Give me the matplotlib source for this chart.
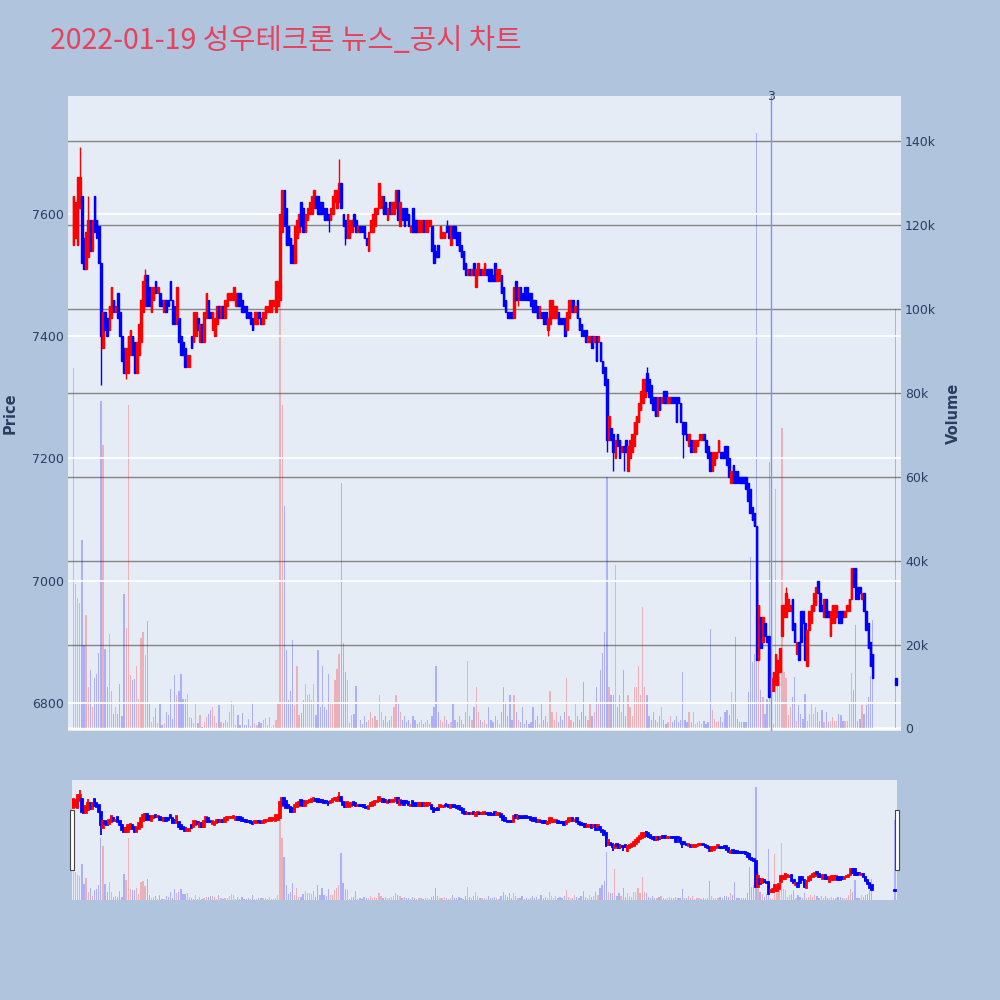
import numpy as np
import matplotlib
matplotlib.use('Agg')
import matplotlib.pyplot as plt
from matplotlib.patches import Rectangle
from matplotlib.ticker import FuncFormatter

plt.rcParams['font.family'] = ['DejaVu Sans']

TITLE = '2022-01-19 성우테크론 뉴스_공시 차트'

# minutes after 09:00 (continuous session to 15:19, closing auction at 15:30)
minutes = list(range(380)) + [390]

opens = [
    7550, 7560, 7550, 7610, 7630, 7560, 7510, 7530, 7590, 7540,
    7630, 7590, 7580, 7520, 7380, 7440, 7430, 7410, 7430, 7460,
    7440, 7470, 7440, 7400, 7380, 7340, 7340, 7370, 7400, 7390,
    7340, 7370, 7390, 7440, 7450, 7500, 7480, 7440, 7460, 7490,
    7470, 7470, 7460, 7440, 7460, 7460, 7490, 7460, 7450, 7420,
    7430, 7400, 7390, 7380, 7350, 7350, 7400, 7390, 7400, 7430,
    7390, 7420, 7390, 7430, 7460, 7440, 7410, 7400, 7420, 7450,
    7430, 7450, 7430, 7450, 7460, 7460, 7460, 7450, 7470, 7470,
    7460, 7450, 7450, 7440, 7440, 7430, 7420, 7420, 7440, 7430,
    7420, 7430, 7440, 7440, 7440, 7450, 7440, 7450, 7460, 7570,
    7640, 7610, 7580, 7560, 7550, 7520, 7560, 7570, 7620, 7610,
    7570, 7590, 7600, 7600, 7610, 7630, 7630, 7620, 7620, 7610,
    7610, 7600, 7590, 7600, 7620, 7610, 7620, 7650, 7600, 7590,
    7560, 7560, 7570, 7600, 7590, 7570, 7580, 7580, 7580, 7560,
    7540, 7570, 7570, 7580, 7600, 7610, 7610, 7630, 7620, 7590,
    7620, 7600, 7600, 7610, 7640, 7580, 7610, 7610, 7610, 7600,
    7570, 7610, 7590, 7590, 7570, 7570, 7590, 7570, 7570, 7580,
    7580, 7550, 7540, 7550, 7560, 7560, 7560, 7580, 7580, 7550,
    7580, 7580, 7570, 7570, 7550, 7540, 7520, 7500, 7510, 7500,
    7520, 7480, 7500, 7510, 7500, 7500, 7510, 7510, 7510, 7500,
    7520, 7490, 7490, 7500, 7480, 7460, 7440, 7440, 7440, 7430,
    7490, 7460, 7480, 7470, 7480, 7480, 7470, 7470, 7460, 7460,
    7450, 7430, 7440, 7440, 7440, 7410, 7420, 7430, 7430, 7430,
    7440, 7430, 7430, 7430, 7410, 7430, 7440, 7460, 7440, 7460,
    7430, 7420, 7410, 7410, 7390, 7390, 7400, 7390, 7400, 7390,
    7390, 7360, 7350, 7330, 7230, 7250, 7240, 7200, 7240, 7230,
    7210, 7220, 7230, 7180, 7200, 7210, 7220, 7240, 7260, 7280,
    7290, 7300, 7340, 7330, 7320, 7300, 7300, 7270, 7300, 7290,
    7310, 7310, 7290, 7290, 7300, 7300, 7300, 7300, 7290, 7260,
    7260, 7240, 7220, 7230, 7210, 7210, 7220, 7230, 7230, 7240,
    7230, 7220, 7210, 7180, 7190, 7200, 7210, 7210, 7210, 7220,
    7220, 7200, 7160, 7190, 7180, 7180, 7170, 7170, 7170, 7170,
    7160, 7150, 7120, 7110, 7090, 6870, 6940, 6900, 6930, 6910,
    6910, 6820, 6820, 6830, 6830, 6850, 6910, 6940, 6940, 6950,
    6950, 6970, 6930, 6880, 6900, 6950, 6950, 6930, 6860, 6920,
    6930, 6950, 6960, 7000, 6980, 6960, 6940, 6970, 6950, 6910,
    6930, 6930, 6940, 6950, 6950, 6950, 6940, 6950, 6950, 6970,
    7020, 7020, 6990, 6990, 6970, 6980, 6950, 6930, 6900, 6880,
    6840,
]

closes = [
    7630, 7620, 7660, 7660, 7520, 7510, 7570, 7590, 7540, 7590,
    7570, 7560, 7520, 7400, 7440, 7410, 7400, 7450, 7480, 7440,
    7450, 7430, 7400, 7360, 7340, 7380, 7400, 7410, 7370, 7340,
    7390, 7420, 7460, 7490, 7500, 7450, 7450, 7480, 7480, 7470,
    7480, 7450, 7450, 7460, 7440, 7450, 7460, 7420, 7420, 7480,
    7390, 7370, 7370, 7350, 7370, 7370, 7380, 7440, 7440, 7410,
    7420, 7390, 7440, 7470, 7430, 7430, 7440, 7430, 7450, 7430,
    7450, 7430, 7460, 7470, 7470, 7470, 7480, 7470, 7450, 7450,
    7440, 7440, 7430, 7430, 7420, 7410, 7440, 7440, 7430, 7420,
    7440, 7450, 7450, 7460, 7460, 7460, 7490, 7490, 7600, 7640,
    7580, 7550, 7550, 7520, 7520, 7580, 7590, 7600, 7580, 7570,
    7600, 7610, 7620, 7630, 7640, 7610, 7600, 7600, 7600, 7590,
    7590, 7590, 7610, 7630, 7640, 7640, 7650, 7610, 7580, 7560,
    7600, 7590, 7590, 7580, 7570, 7580, 7570, 7570, 7560, 7550,
    7570, 7590, 7600, 7610, 7610, 7650, 7630, 7600, 7600, 7610,
    7600, 7620, 7620, 7640, 7590, 7620, 7590, 7580, 7590, 7580,
    7580, 7570, 7570, 7570, 7590, 7590, 7570, 7590, 7590, 7590,
    7540, 7520, 7530, 7530, 7580, 7570, 7570, 7570, 7560, 7580,
    7560, 7560, 7550, 7540, 7530, 7510, 7500, 7510, 7500, 7510,
    7500, 7510, 7520, 7500, 7510, 7520, 7500, 7490, 7490, 7490,
    7490, 7510, 7510, 7470, 7450, 7440, 7430, 7430, 7430, 7480,
    7460, 7480, 7460, 7460, 7460, 7460, 7460, 7450, 7440, 7440,
    7430, 7450, 7430, 7420, 7420, 7430, 7460, 7460, 7450, 7450,
    7420, 7420, 7420, 7400, 7440, 7460, 7460, 7440, 7450, 7430,
    7410, 7400, 7400, 7390, 7400, 7400, 7380, 7400, 7360, 7400,
    7360, 7340, 7320, 7230, 7270, 7230, 7210, 7230, 7220, 7200,
    7220, 7210, 7210, 7220, 7230, 7240, 7260, 7270, 7290, 7310,
    7330, 7330, 7310, 7300, 7290, 7280, 7270, 7300, 7280, 7300,
    7290, 7290, 7300, 7300, 7290, 7290, 7260, 7290, 7260, 7240,
    7240, 7230, 7240, 7210, 7230, 7230, 7230, 7240, 7240, 7230,
    7210, 7200, 7180, 7210, 7210, 7210, 7230, 7200, 7200, 7200,
    7190, 7170, 7180, 7160, 7160, 7160, 7160, 7160, 7160, 7150,
    7130, 7110, 7100, 7090, 6870, 6960, 6890, 6940, 6910, 6900,
    6810, 6840, 6850, 6880, 6870, 6890, 6960, 6960, 6980, 6970,
    6960, 6920, 6900, 6900, 6870, 6900, 6930, 6870, 6920, 6950,
    6960, 6980, 6990, 6980, 6950, 6950, 6970, 6940, 6940, 6950,
    6960, 6960, 6960, 6930, 6930, 6940, 6950, 6960, 6970, 7020,
    6990, 6970, 6970, 6980, 6980, 6950, 6920, 6890, 6860, 6840,
    6830,
]

# wick extremes beyond the candle bodies (minute: price)
wick_high = {3: 7710, 7: 7630, 34: 7510, 126: 7690, 145: 7650, 153: 7640,
             177: 7590, 190: 7520, 272: 7350, 306: 7230, 338: 6990}
wick_low = {13: 7320, 25: 7330, 121: 7570, 129: 7550, 140: 7540, 191: 7480,
            211: 7450, 225: 7400, 246: 7380, 253: 7210, 256: 7180, 261: 7180,
            286: 7260, 289: 7200}

# volume in thousands of shares
volume_k = [
    86, 34.5, 31, 30, 45, 20, 27, 10, 14, 5,
    12, 13, 18, 78, 67.5, 19, 10, 22.5, 9, 3.5,
    5, 3.5, 10.5, 3, 32, 24, 77, 12.7, 11.5, 11.7,
    15, 7, 21.6, 23, 17.5, 25.6, 6, 1.6, 2.7, 4.8,
    1.2, 6, 0.8, 1.2, 3.9, 3.1, 9.5, 2.2, 12.7, 7.9,
    9, 13, 7.1, 7.1, 8.1, 2.7, 2.4, 1.2, 6.3, 1.2,
    3.2, 0.4, 1.5, 2.7, 3.5, 4.5, 5, 3, 1.2, 5.5,
    1.5, 1.2, 2, 1.5, 4, 6.5, 5.7, 0.8, 3.2, 0.8,
    3.6, 0.8, 0.8, 2.2, 0.5, 6.3, 1.2, 0.8, 1.6, 1.4,
    2.1, 2.4, 0.8, 2.8, 0.4, 0.8, 2, 6.3, 104, 77,
    53, 18.6, 6.7, 9, 21, 5.5, 14.8, 3.2, 3.6, 6.7,
    10.6, 7.9, 8.3, 6.7, 10.6, 3.2, 18.8, 5.1, 14.8, 5.1,
    4.4, 13, 6.3, 6.3, 11.5, 14.2, 17.8, 58.6, 20.3, 13.4,
    11.5, 1.2, 3.2, 3.5, 10.2, 0.2, 2, 1, 3, 1.5,
    2, 4, 2.5, 3, 2, 8, 4, 2, 3, 1.5,
    2, 3, 5, 8, 6, 4, 2, 3, 1.5, 2,
    1, 3, 2, 1, 1.5, 2, 1, 1.5, 2, 1,
    3, 5, 15, 4, 2, 1.5, 3, 2, 1, 1.5,
    6, 2, 1.5, 3, 2, 1, 4, 16, 3, 2,
    5, 10, 4, 2, 1.5, 2, 1, 5, 2, 1.5,
    3, 2, 1, 4, 10, 6, 3, 8, 2, 8,
    4, 2, 1.5, 5, 1, 2, 1, 1.5, 5, 2,
    3, 1, 6, 2, 3, 1.5, 9, 4, 2, 4,
    1.5, 3, 2, 4, 12, 3, 2, 1.5, 6, 3,
    2, 4, 11, 3, 2, 6, 3, 4, 10, 6,
    14, 18, 23, 60, 10, 8, 8, 39, 5, 8,
    4, 14, 3, 8, 5, 3, 10, 10, 15, 8,
    29, 10, 8, 3, 2, 4, 2, 1.5, 3, 5,
    2, 1, 1.5, 3, 1.5, 2, 3, 1.5, 2, 13.4,
    2, 1.5, 3.9, 1.5, 3.9, 1, 1.5, 1.9, 1, 1.9,
    1, 1.5, 23.8, 4.3, 2.3, 1.5, 1.9, 2.7, 1.5, 3.9,
    4.3, 3.1, 8.7, 5.9, 21.8, 2.3, 1.5, 1.5, 1.5, 1.5,
    8.7, 40.9, 15.8, 17.8, 142, 35, 9.1, 7.5, 3.5, 7.1,
    63.5, 2, 1, 57, 16.9, 12.2, 71.5, 13.4, 12, 3.1,
    5.1, 7.5, 12.2, 1.9, 5.5, 3.5, 2.3, 8.3, 1.9, 3.5,
    5.9, 3.5, 5.1, 3.9, 1.9, 4.3, 1.5, 3.9, 1.5, 1.9,
    2.7, 1.9, 1.9, 3.5, 3.1, 1.9, 1.9, 1.9, 6.3, 13.3,
    9.1, 24.6, 1.9, 2.3, 5.5, 3.5, 5.5, 7.5, 12.6, 25.8,
    100,
]

news_minute = 331      # 14:31
news_label = '3'

price_ticks = [6800, 7000, 7200, 7400, 7600]
volume_ticks = [0, 20, 40, 60, 80, 100, 120, 140]
time_ticks = [0, 60, 120, 180, 240, 300, 360]
time_labels = ['09:00\nJan 19, 2022', '10:00', '11:00', '12:00', '13:00', '14:00', '15:00']

UP = '#FF0000'
DOWN = '#0000FF'
BG = '#B0C4DE'
PLOT_BG = '#E5ECF6'
FONT_C = '#2a3f5f'


def candle_arrays():
    x = np.array(minutes, dtype=float)
    o = np.array(opens, dtype=float)
    c = np.array(closes, dtype=float)
    hi = np.maximum(o, c)
    lo = np.minimum(o, c)
    whi = hi.copy()
    wlo = lo.copy()
    for m, v in wick_high.items():
        whi[minutes.index(m)] = v
    for m, v in wick_low.items():
        wlo[minutes.index(m)] = v
    cols = np.where(c > o, UP, DOWN)
    return x, hi, lo, whi, wlo, cols


def draw_candles(ax, lw):
    x, hi, lo, whi, wlo, cols = candle_arrays()
    ax.vlines(x, wlo, whi, colors=cols, lw=lw, zorder=3)
    ax.bar(x, hi - lo, bottom=lo, width=0.75, color=cols, edgecolor=cols,
           lw=lw, zorder=3)


def draw_volume(ax):
    x, hi, lo, whi, wlo, cols = candle_arrays()
    ax.bar(x, volume_k, width=0.6, color=cols, alpha=0.25, lw=0, zorder=2)


fig = plt.figure(figsize=(10, 10), dpi=100, facecolor=BG)

XMIN, XMAX = -2.6, 392.5
PMIN, PMAX = 6754, 7793
VMIN, VMAX = -0.6, 150.7

# main panel: volume axis underneath, price axis on top
ax_v = fig.add_axes([0.068, 0.269, 0.833, 0.635], facecolor=PLOT_BG)
ax_p = ax_v.twinx()
ax_p.patch.set_visible(False)

draw_volume(ax_v)
ax_v.set_ylim(VMIN, VMAX)
ax_v.set_yticks(volume_ticks)
ax_v.yaxis.set_major_formatter(FuncFormatter(lambda v, p: '0' if v == 0 else f'{int(v)}k'))
ax_v.grid(axis='y', color='#858585', lw=1.0, zorder=0)
ax_v.axhline(0, color='white', lw=2, zorder=1)
ax_v.set_axisbelow(True)
ax_v.yaxis.tick_right()
ax_v.yaxis.set_label_position('right')

ax_p.yaxis.tick_left()
ax_p.yaxis.set_label_position('left')
for y in price_ticks:
    ax_p.axhline(y, color='white', lw=1.3, zorder=1)
draw_candles(ax_p, 1.0)
ax_p.set_ylim(PMIN, PMAX)
ax_p.set_yticks(price_ticks)

for a in (ax_v, ax_p):
    a.set_xlim(XMIN, XMAX)
    for s in a.spines.values():
        s.set_visible(False)
    a.tick_params(length=0, labelsize=9, labelcolor=FONT_C)
ax_p.tick_params(axis='y', pad=3)
ax_v.tick_params(axis='y', pad=3)
ax_v.set_xticks(time_ticks)
ax_v.set_xticklabels(time_labels, linespacing=1.35)
ax_v.tick_params(axis='x', pad=5)
ax_p.set_xticks([])

# news marker
ax_p.axvline(news_minute, color='#8094e8', lw=1, zorder=4)
ax_p.text(news_minute, 1.0, news_label, transform=ax_p.get_xaxis_transform(),
          ha='center', va='center', fontsize=9, color=FONT_C, zorder=5)

fig.text(0.010, 0.587, 'Price', rotation=90, ha='center', va='center',
         fontsize=10.5, fontweight='bold', color=FONT_C)
fig.text(0.953, 0.587, 'Volume', rotation=90, ha='center', va='center',
         fontsize=10.5, fontweight='bold', color=FONT_C)

fig.text(0.050, 0.959, TITLE, ha='left', va='center', fontsize=20.6, color='#E5435C',
         family=['Noto Sans CJK KR', 'DejaVu Sans'])

# range slider
rs_v = fig.add_axes([0.072, 0.100, 0.825, 0.120], facecolor=PLOT_BG)
rs_p = rs_v.twinx()
rs_p.patch.set_visible(False)
draw_volume(rs_v)
draw_candles(rs_p, 1.3)
rs_v.set_ylim(VMIN, VMAX)
rs_p.set_ylim(PMIN, PMAX)
for a in (rs_v, rs_p):
    a.set_xlim(-0.7, 391)
    a.set_xticks([])
    a.set_yticks([])
    for s in a.spines.values():
        s.set_visible(False)

for hx in (0.0695, 0.8945):
    fig.add_artist(Rectangle((hx, 0.130), 0.004, 0.060, transform=fig.transFigure,
                             facecolor='white', edgecolor='#444444', lw=0.8))

fig.savefig('out.png', dpi=100, facecolor=BG)
